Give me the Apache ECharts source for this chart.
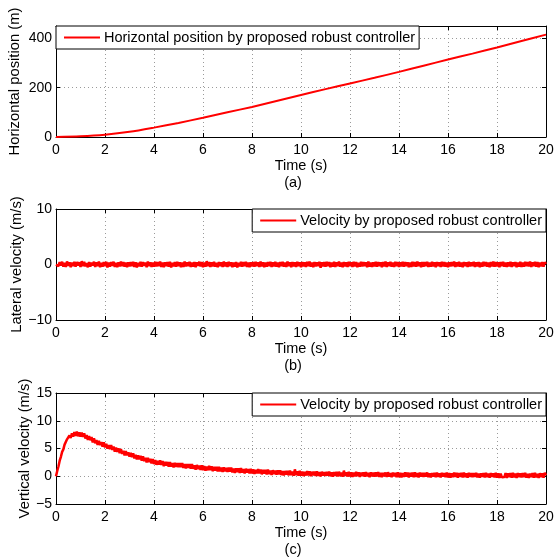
<!DOCTYPE html>
<html>
<head>
<meta charset="utf-8">
<script src="https://cdn.jsdelivr.net/npm/echarts@6/dist/echarts.min.js"></script>
<style>
html,body{margin:0;padding:0;background:#fff;}
#chart{width:555px;height:560px;}
</style>
</head>
<body>
<div id="chart"></div>
<script>
// ---- data ----
const positionTime = [0,1,2,3,4,5,6,7,8,9,10,11,12,13,14,15,16,17,18,19,20];
const horizontalPosition = [0,3,9.5,21,38,57,78,100,122,146,170,194,217,240,264,289,314,338,363,389,415];

const sampleStep = 0.05; // seconds between velocity samples (t = 0 ... 20 s)
const lateralVelocity = [
0.0,0.35,-0.3,0.45,-0.2,0.5,-0.4,0.3,-0.45,0.55,-0.25,0.4,-0.5,0.35,-0.3,0.5,-0.4,0.45,-0.2,0.4,
-0.45,0.6,-0.3,0.5,-0.35,0.25,-0.5,0.45,-0.4,0.35,-0.2,0.5,-0.45,0.4,-0.3,0.55,-0.5,0.3,-0.4,0.45,
-0.3,0.5,-0.55,0.35,-0.4,0.45,-0.25,0.5,-0.45,0.3,-0.5,0.4,-0.35,0.55,-0.3,0.45,-0.4,0.35,-0.5,0.4,
-0.35,0.45,-0.3,0.5,-0.45,0.4,-0.55,0.3,-0.35,0.5,-0.4,0.45,-0.25,0.35,-0.5,0.55,-0.3,0.4,-0.45,0.35,
-0.4,0.5,-0.35,0.45,-0.3,0.55,-0.45,0.35,-0.5,0.4,-0.3,0.45,-0.4,0.5,-0.55,0.3,-0.35,0.45,-0.4,0.5,
-0.3,0.4,-0.5,0.35,-0.45,0.55,-0.35,0.4,-0.3,0.5,-0.45,0.35,-0.4,0.45,-0.5,0.4,-0.25,0.5,-0.35,0.45,
-0.5,0.35,-0.4,0.6,-0.3,0.45,-0.45,0.4,-0.35,0.5,-0.4,0.3,-0.5,0.45,-0.3,0.4,-0.45,0.55,-0.35,0.4,
-0.45,0.5,-0.3,0.4,-0.5,0.35,-0.4,0.45,-0.55,0.3,-0.35,0.5,-0.4,0.45,-0.3,0.5,-0.45,0.35,-0.5,0.4,
-0.35,0.45,-0.4,0.5,-0.3,0.4,-0.45,0.55,-0.35,0.4,-0.5,0.35,-0.4,0.45,-0.3,0.5,-0.45,0.4,-0.35,0.5,
-0.4,0.35,-0.5,0.45,-0.3,0.5,-0.4,0.35,-0.45,0.55,-0.3,0.4,-0.5,0.45,-0.35,0.4,-0.45,0.5,-0.3,0.4,
-0.5,0.45,-0.35,0.4,-0.45,0.5,-0.3,0.55,-0.4,0.35,-0.5,0.45,-0.35,0.4,-0.3,0.5,-0.6,0.4,-0.35,0.45,
-0.4,0.5,-0.3,0.45,-0.5,0.35,-0.4,0.5,-0.45,0.4,-0.3,0.55,-0.4,0.35,-0.5,0.45,-0.35,0.4,-0.45,0.5,
-0.3,0.4,-0.45,0.5,-0.35,0.45,-0.5,0.3,-0.4,0.5,-0.35,0.45,-0.3,0.4,-0.5,0.55,-0.4,0.35,-0.45,0.4,
-0.35,0.5,-0.4,0.45,-0.3,0.4,-0.5,0.45,-0.35,0.55,-0.45,0.4,-0.3,0.5,-0.4,0.35,-0.45,0.5,-0.3,0.45,
-0.45,0.4,-0.35,0.5,-0.4,0.45,-0.3,0.4,-0.5,0.35,-0.45,0.5,-0.35,0.45,-0.4,0.55,-0.3,0.4,-0.5,0.45,
-0.4,0.45,-0.3,0.5,-0.45,0.35,-0.4,0.5,-0.35,0.4,-0.5,0.45,-0.3,0.4,-0.45,0.5,-0.35,0.45,-0.4,0.35,
-0.5,0.4,-0.35,0.45,-0.3,0.55,-0.45,0.4,-0.35,0.5,-0.4,0.35,-0.5,0.45,-0.3,0.4,-0.45,0.5,-0.35,0.4,
-0.3,0.5,-0.45,0.4,-0.35,0.45,-0.5,0.35,-0.4,0.5,-0.3,0.45,-0.4,0.35,-0.5,0.45,-0.35,0.55,-0.4,0.45,
-0.35,0.4,-0.5,0.45,-0.3,0.5,-0.4,0.35,-0.45,0.4,-0.35,0.5,-0.45,0.4,-0.3,0.45,-0.5,0.35,-0.4,0.5,
-0.45,0.35,-0.4,0.5,-0.3,0.45,-0.35,0.55,-0.45,0.4,-0.3,0.5,-0.4,0.45,-0.5,0.35,-0.35,0.45,-0.4,0.4,
0.1
];
const verticalVelocity = [
0,0.95,1.75,2.8,3.5,4.4,4.85,5.7,5.8,6.65,6.5,7.35,6.9,7.75,7.15,7.95,7.3,8.05,7.2,7.9,
7.15,7.85,7.1,7.75,6.8,7.4,6.55,7.25,6.5,7.05,6.1,6.85,5.95,6.5,5.65,6.4,5.6,6.18,5.35,6.13,
5.2,5.86,4.97,5.63,4.89,5.6,4.76,5.37,4.43,5.14,4.4,5.02,4.14,4.91,4.03,4.6,3.77,4.54,3.76,4.33,
3.55,4.23,3.46,4.14,3.22,3.85,3.03,3.76,3.04,3.67,2.8,3.59,2.73,3.32,2.51,3.3,2.54,3.13,2.32,3.11,
2.2,2.91,2.07,2.78,2.09,2.85,2.06,2.72,1.83,2.59,1.9,2.57,1.74,2.56,1.73,2.36,1.59,2.42,1.71,2.35,
1.65,2.38,1.65,2.38,1.5,2.18,1.4,2.18,1.5,2.18,1.35,2.18,1.35,1.98,1.2,2.03,1.3,1.93,1.15,1.98,
1.1,1.83,1.01,1.75,1.08,1.86,1.09,1.78,0.91,1.69,1.02,1.71,0.89,1.72,0.9,1.54,0.77,1.6,0.88,1.52,
0.8,1.54,0.82,1.56,0.7,1.39,0.62,1.41,0.75,1.44,0.62,1.46,0.65,1.29,0.52,1.36,0.65,1.29,0.52,1.36,
0.5,1.24,0.42,1.16,0.5,1.29,0.52,1.21,0.35,1.14,0.47,1.16,0.35,1.19,0.37,1.01,0.25,1.09,0.37,1.01,
0.3,1.04,0.33,1.08,0.22,0.91,0.15,0.95,0.29,0.98,0.17,1.02,0.21,0.85,0.09,1.24,0.23,0.87,0.11,0.96,
0.1,0.85,0.04,0.79,0.13,0.93,0.17,0.87,0.01,0.81,0.15,0.85,0.04,0.89,0.08,0.73,-0.03,0.82,0.11,0.76,
0.05,0.8,0.1,0.84,-0.01,0.69,-0.07,0.73,0.08,0.78,-0.03,0.82,0.02,0.67,-0.09,1.01,0.06,0.71,-0.05,0.8,
-0.05,0.7,-0.11,0.64,-0.01,0.78,0.03,0.73,-0.13,0.67,0.02,0.72,-0.09,0.76,-0.04,0.61,-0.15,0.7,0,0.65,
-0.05,0.7,0,0.74,-0.11,0.59,-0.16,0.63,-0.02,0.68,-0.12,0.73,-0.08,0.57,-0.18,0.67,-0.04,0.61,-0.14,0.71,
-0.15,0.6,-0.2,0.55,-0.1,0.7,-0.05,0.65,-0.2,0.6,-0.05,0.65,-0.15,0.7,-0.1,0.55,-0.2,0.65,-0.05,0.6,
-0.12,0.63,-0.07,0.68,-0.17,0.53,-0.22,0.58,-0.07,0.63,-0.17,0.68,-0.12,0.53,-0.22,0.63,-0.07,0.58,-0.17,0.68,
-0.2,0.55,-0.25,0.5,-0.15,0.65,-0.1,0.6,-0.25,0.55,-0.1,0.6,-0.2,0.65,-0.15,0.5,-0.25,0.6,-0.1,0.55,
-0.17,0.58,-0.12,0.63,-0.22,0.48,-0.27,0.53,-0.12,0.58,-0.22,0.63,-0.17,0.48,-0.27,0.58,-0.12,0.53,-0.22,0.63,
-0.24,0.51,-0.29,0.46,-0.19,-0.4,-0.14,0.56,-0.29,0.51,-0.14,0.56,-0.24,0.61,-0.19,0.46,-0.29,0.56,-0.14,0.51,
-0.2,0.55,-0.15,0.6,-0.25,0.45,-0.3,0.5,-0.15,0.55,-0.25,0.6,-0.2,0.45,-0.3,0.55,-0.15,0.5,-0.25,0.6,
0.15
];

const seriesNames = ['Horizontal position by proposed robust controller', 'Velocity by proposed robust controller'];
const yAxisNames = ['Horizontal position (m)', 'Lateral velocity (m/s)', 'Vertical velocity (m/s)'];
const xAxisName = 'Time (s)';
const panelLabels = ['(a)', '(b)', '(c)'];
const yRanges = [[0, 450, 200], [-10, 10, 10], [-5, 15, 5]];
const xRange = [0, 20, 2];

// ---- layout / style ----
const FONT = 'Liberation Sans, Arial, Helvetica, sans-serif';
const gridTops = [26, 209, 393];
const gridH = 111;
const gridLeft = 56, gridRight = 9;
const yNameGaps = [34, 32, 24];

const grids = [], xAxes = [], yAxes = [], series = [], legends = [], graphics = [];
const axisLineStyle = {show: true, onZero: false, lineStyle: {color: '#000', width: 1}};
const tickStyle = {show: true, inside: true, length: 4, lineStyle: {color: '#000', width: 1}};
const splitStyle = {show: true, lineStyle: {color: '#9a9a9a', type: [1, 3], width: 1}};
const minusFmt = v => String(v).replace('-', '\u2212');

for (let i = 0; i < 3; i++) {
  grids.push({left: gridLeft, right: gridRight, top: gridTops[i], height: gridH, containLabel: false, outerBoundsMode: 'none'});
  const xi = xAxes.length;
  xAxes.push({
    type: 'value', gridIndex: i, position: 'bottom', min: xRange[0], max: xRange[1], interval: xRange[2],
    axisLine: axisLineStyle, axisTick: tickStyle, splitLine: splitStyle,
    axisLabel: {color: '#000', fontSize: 14, fontFamily: FONT, margin: 6},
    name: xAxisName, nameLocation: 'middle', nameGap: 21, nameMoveOverlap: false,
    nameTextStyle: {color: '#000', fontSize: 14.5, fontFamily: FONT}
  });
  xAxes.push({
    type: 'value', gridIndex: i, position: 'top', min: xRange[0], max: xRange[1], interval: xRange[2],
    axisLine: axisLineStyle, axisTick: tickStyle, splitLine: {show: false}, axisLabel: {show: false}
  });
  const yi = yAxes.length;
  const yr = yRanges[i];
  yAxes.push({
    type: 'value', gridIndex: i, position: 'left', min: yr[0], max: yr[1], interval: yr[2],
    axisLine: axisLineStyle, axisTick: tickStyle, splitLine: splitStyle,
    axisLabel: {color: '#000', fontSize: 14, fontFamily: FONT, margin: 4, showMaxLabel: i !== 0, formatter: minusFmt},
    name: yAxisNames[i], nameLocation: 'middle', nameGap: yNameGaps[i], nameMoveOverlap: false,
    nameTextStyle: {color: '#000', fontSize: 14.8, fontFamily: FONT}
  });
  yAxes.push({
    type: 'value', gridIndex: i, position: 'right', min: yr[0], max: yr[1], interval: yr[2],
    axisLine: axisLineStyle, axisTick: tickStyle, splitLine: {show: false}, axisLabel: {show: false}
  });

  let data, name;
  if (i === 0) {
    name = seriesNames[0];
    data = positionTime.map((t, k) => [t, horizontalPosition[k]]);
  } else {
    name = seriesNames[1];
    const arr = i === 1 ? lateralVelocity : verticalVelocity;
    data = arr.map((v, k) => [+(k * sampleStep).toFixed(2), v]);
  }
  series.push({
    type: 'line', name: name, xAxisIndex: xi, yAxisIndex: yi, data: data,
    symbol: 'none', smooth: i === 0 ? 0.3 : false, animation: false,
    lineStyle: {color: '#ff0000', width: i === 0 ? 2 : 2.5}, itemStyle: {color: '#ff0000'}, z: 3
  });

  const leg = {
    data: [name], top: gridTops[i], orient: 'horizontal',
    backgroundColor: '#fff', borderColor: '#000', borderWidth: 1,
    padding: [4, 4, 4, 8], itemWidth: 36, itemHeight: 2, itemGap: 0, icon: 'rect',
    textStyle: {color: '#000', fontSize: 14.5, fontFamily: FONT, padding: [0, 0, 0, -1]},
    selectedMode: false, z: 10
  };
  if (i === 0) leg.left = gridLeft; else leg.right = gridRight;
  legends.push(leg);

  graphics.push({
    type: 'text', x: 293, y: gridTops[i] + gridH + 46,
    style: {text: panelLabels[i], font: '14.5px ' + FONT, fill: '#000', textAlign: 'center', textVerticalAlign: 'middle'}
  });
}

const chart = echarts.init(document.getElementById('chart'), null, {renderer: 'canvas'});
chart.setOption({
  animation: false,
  backgroundColor: '#fff',
  grid: grids, xAxis: xAxes, yAxis: yAxes, series: series, legend: legends, graphic: graphics
});
</script>
</body>
</html>
